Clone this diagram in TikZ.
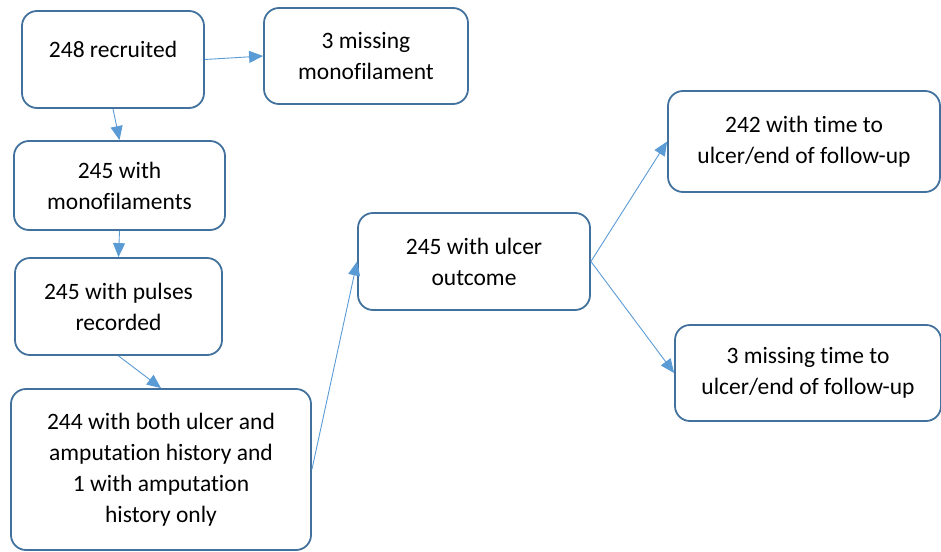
\documentclass[tikz,border=0pt]{standalone}
\usepackage{fontspec}
\setmainfont{Carlito}[RawFeature=-liga]
\usepackage{tikz}
\usetikzlibrary{arrows.meta,positioning}
\definecolor{boxline}{HTML}{41719C}
\definecolor{arrowline}{HTML}{5B9BD5}

\begin{document}
\begin{tikzpicture}[x=1pt, y=-1pt,
  box/.style={draw=boxline, line width=1.8pt, rounded corners=15pt, align=center,
    inner sep=0pt, font=\fontsize{23.5}{31}\selectfont},
  flow/.style={draw=arrowline, line width=0.9pt, -{Triangle[length=14pt,width=12pt]}}]
\useasboundingbox (0,0) rectangle (941,551);
\node (rec) [box, minimum width=182pt, minimum height=97pt] at (113,59.5)
  {\raisebox{10pt}[\height][\depth]{248 recruited}};
\node (miss) [box, minimum width=204pt, minimum height=96pt] at (366,56) {3 missing\\monofilament};
\node (mono) [box, minimum width=211pt, minimum height=89pt] at (119.5,185.5) {245 with\\monofilaments};
\node (puls) [box, minimum width=207pt, minimum height=97pt] at (118.5,306.5) {245 with pulses\\recorded};
\node (hist) [box, minimum width=300pt, minimum height=161pt] at (161,469.5)
  {244 with both ulcer and\\amputation history and\\1 with amputation\\history only};
\node (ulc) [box, minimum width=232pt, minimum height=97pt] at (474,261.5) {245 with ulcer\\outcome};
\node (time) [box, minimum width=272pt, minimum height=101pt] at (804,141.5) {242 with time to\\ulcer/end of follow-up};
\node (notime) [box, minimum width=266pt, minimum height=96pt] at (808,373) {3 missing time to\\ulcer/end of follow-up};
% connectors
\draw[flow] (rec.east) -- (miss.west);
\draw[flow] (rec.south) -- (mono.north);
\draw[flow] (mono.south) -- (puls.north);
\draw[flow] (puls.south) -- (hist.north);
\draw[flow] (hist.east) -- (ulc.west);
\draw[flow] (ulc.east) -- (time.west);
\draw[flow] (ulc.east) -- (notime.west);
\end{tikzpicture}
\end{document}
